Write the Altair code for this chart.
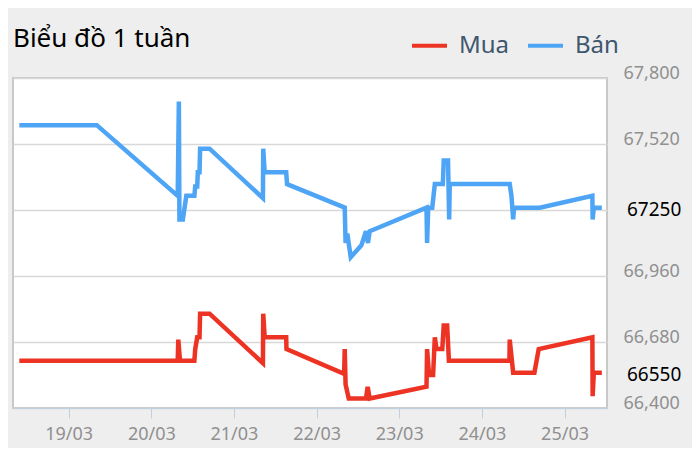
import altair as alt
import pandas as pd

# Bán (sell) series
ban_time = [
    "2024-03-18T09:40", "2024-03-19T08:10", "2024-03-20T07:40", "2024-03-20T08:00",
    "2024-03-20T08:10", "2024-03-20T09:10", "2024-03-20T10:10", "2024-03-20T12:30",
    "2024-03-20T12:45", "2024-03-20T13:20", "2024-03-20T13:30", "2024-03-20T14:00",
    "2024-03-20T14:10", "2024-03-20T16:55", "2024-03-21T08:25", "2024-03-21T08:30",
    "2024-03-21T08:55", "2024-03-21T15:10", "2024-03-21T15:25", "2024-03-22T08:10",
    "2024-03-22T08:25", "2024-03-22T08:55", "2024-03-22T09:55", "2024-03-22T13:00",
    "2024-03-22T14:20", "2024-03-22T14:55", "2024-03-22T15:25", "2024-03-23T07:55",
    "2024-03-23T08:05", "2024-03-23T08:25", "2024-03-23T09:35", "2024-03-23T10:20",
    "2024-03-23T12:40", "2024-03-23T12:55", "2024-03-23T14:10", "2024-03-23T14:30",
    "2024-03-23T14:40", "2024-03-24T08:05", "2024-03-24T08:35", "2024-03-24T09:05",
    "2024-03-24T09:20", "2024-03-24T16:50", "2024-03-25T08:05", "2024-03-25T08:10",
    "2024-03-25T08:30", "2024-03-25T10:50",
]
ban_value = [
    67600, 67600, 67300, 67700,
    67200, 67200, 67300, 67300,
    67340, 67340, 67400, 67400,
    67500, 67500, 67290, 67500,
    67400, 67400, 67350, 67250,
    67100, 67140, 67040, 67090,
    67150, 67100, 67150, 67250,
    67100, 67250, 67250, 67350,
    67350, 67450, 67450, 67200,
    67350, 67350, 67300, 67200,
    67250, 67250, 67300, 67200,
    67250, 67250,
]

# Mua (buy) series
mua_time = [
    "2024-03-18T09:40", "2024-03-20T07:40", "2024-03-20T07:50", "2024-03-20T08:20",
    "2024-03-20T12:30", "2024-03-20T12:45", "2024-03-20T13:20", "2024-03-20T14:00",
    "2024-03-20T14:10", "2024-03-20T16:55", "2024-03-21T08:25", "2024-03-21T08:30",
    "2024-03-21T08:55", "2024-03-21T15:10", "2024-03-21T15:15", "2024-03-22T08:00",
    "2024-03-22T08:10", "2024-03-22T08:25", "2024-03-22T09:20", "2024-03-22T14:20",
    "2024-03-22T14:50", "2024-03-22T15:25", "2024-03-23T07:55", "2024-03-23T08:05",
    "2024-03-23T08:40", "2024-03-23T09:50", "2024-03-23T10:20", "2024-03-23T10:50",
    "2024-03-23T12:30", "2024-03-23T12:55", "2024-03-23T13:55", "2024-03-23T14:25",
    "2024-03-24T08:00", "2024-03-24T08:05", "2024-03-24T09:05", "2024-03-24T15:15",
    "2024-03-24T16:30", "2024-03-25T08:05", "2024-03-25T08:10", "2024-03-25T08:30",
    "2024-03-25T10:50",
]
mua_value = [
    66600, 66600, 66690, 66600,
    66600, 66650, 66700, 66700,
    66800, 66800, 66590, 66800,
    66700, 66700, 66650, 66545,
    66650, 66500, 66440, 66440,
    66490, 66440, 66490, 66650,
    66540, 66540, 66700, 66650,
    66650, 66750, 66750, 66600,
    66600, 66690, 66550, 66550,
    66650, 66700, 66450, 66550,
    66550,
]

series = ["Mua", "Bán"]
colors = ["#ED3324", "#4EA5F6"]
y_ticks = [66400, 66680, 66960, 67240, 67520, 67800]
x_days = [19, 20, 21, 22, 23, 24, 25]
last_labels = ["66550", "67250"]
last_values = [66550, 67250]
title_text = "Biểu đồ 1 tuần"

FONT = "Noto Sans"

df = pd.concat(
    [
        pd.DataFrame({"time": mua_time, "value": mua_value, "series": "Mua"}),
        pd.DataFrame({"time": ban_time, "value": ban_value, "series": "Bán"}),
    ]
)

x_enc = alt.X(
    "time:T",
    scale=alt.Scale(
        domain=[
            alt.DateTime(year=2024, month=3, date=18, hours=7, minutes=50),
            alt.DateTime(year=2024, month=3, date=25, hours=12, minutes=20),
        ]
    ),
    axis=alt.Axis(
        values=[alt.DateTime(year=2024, month=3, date=d) for d in x_days],
        format="%d/%m",
        grid=False,
        domainColor="#C0D0E0",
        tickColor="#C0D0E0",
        tickSize=10,
        labelFontSize=18,
        labelColor="#909090",
        labelFont=FONT,
        labelPadding=7,
    ),
    title=None,
)

y_scale = alt.Scale(domain=[66400, 67800], nice=False, zero=False)

lines = (
    alt.Chart(df)
    .mark_line(strokeWidth=4.5, strokeJoin="miter", clip=True)
    .encode(
        x_enc,
        alt.Y(
            "value:Q",
            scale=y_scale,
            axis=alt.Axis(
                orient="right",
                values=y_ticks,
                labelExpr="datum.value == 67240 ? '' : format(datum.value, ',')",
                domain=False,
                ticks=False,
                gridColor="#D8D8D8",
                gridWidth=1.5,
                labelFontSize=18,
                labelColor="#909090",
                labelFont=FONT,
                labelAlign="left",
                labelBaseline="alphabetic",
                labelPadding=16,
            ),
            title=None,
        ),
        alt.Color(
            "series:N",
            scale=alt.Scale(domain=series, range=colors),
            legend=alt.Legend(
                orient="none",
                legendX=397,
                legendY=-52,
                direction="horizontal",
                title=None,
                symbolType="stroke",
                symbolStrokeWidth=4,
                symbolSize=1225,
                labelFontSize=24,
                labelFont=FONT,
                labelColor="#3E576F",
                labelOffset=10,
                columnPadding=10,
            ),
        ),
        detail="series:N",
    )
)

last = pd.DataFrame({"label": last_labels, "value": last_values})
last_text = (
    alt.Chart(last)
    .mark_text(align="left", baseline="middle", fontSize=19, font=FONT, color="black", dy=2)
    .encode(
        x=alt.value(614),
        y=alt.Y("value:Q", scale=y_scale),
        text="label:N",
    )
)

title = (
    alt.Chart(pd.DataFrame({"t": [title_text]}))
    .mark_text(align="left", baseline="alphabetic", fontSize=26, font=FONT, color="black")
    .encode(x=alt.value(0), y=alt.value(-31), text="t:N")
)

chart = (
    alt.layer(lines, last_text, title)
    .properties(
        width=594,
        height=330,
        background="#EEEEEE",
        padding={"left": 5, "top": 70, "right": 85, "bottom": 40},
        autosize=alt.AutoSizeParams(type="none"),
    )
    .configure_view(fill="white", stroke="#C8C8C8", strokeWidth=2)
)

chart.save("out.html", embed_options={"renderer": "svg", "actions": False})
